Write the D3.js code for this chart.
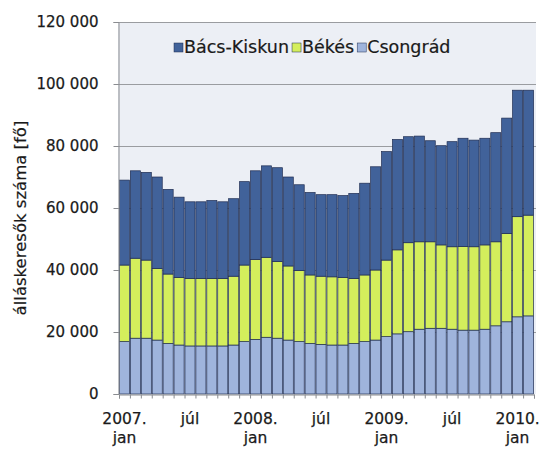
<!DOCTYPE html>
<html><head><meta charset="utf-8">
<script src="https://cdn.jsdelivr.net/npm/d3@7"></script>
<style>
html,body{margin:0;padding:0;background:#fff;}
svg{display:block;}
text{font-family:"DejaVu Sans",Verdana,sans-serif;fill:#1a1a1a;}
</style></head>
<body>
<svg id="chart" width="541" height="462"></svg>
<script>
// ---- data (values in persons) ----
const months = ["2007-01","2007-02","2007-03","2007-04","2007-05","2007-06","2007-07","2007-08","2007-09","2007-10","2007-11","2007-12",
"2008-01","2008-02","2008-03","2008-04","2008-05","2008-06","2008-07","2008-08","2008-09","2008-10","2008-11","2008-12",
"2009-01","2009-02","2009-03","2009-04","2009-05","2009-06","2009-07","2009-08","2009-09","2009-10","2009-11","2009-12",
"2010-01","2010-02"];
const csongrad = [16900,18000,18000,17400,16300,15800,15500,15500,15500,15500,15800,16900,
17600,18300,18000,17400,16900,16300,16000,15800,15800,16300,16900,17400,
18500,19400,20100,20900,21200,21200,20900,20600,20600,20900,22000,23300,
24900,25200];
const bekes = [24700,25800,25200,23100,22400,21800,21800,21800,21800,21800,22200,24700,
25800,25800,24700,23900,22900,22100,22000,22000,21800,21000,21500,22600,
24700,27100,28700,28200,27900,26900,26600,27000,26900,27200,27100,28500,
32300,32500];
const bacs = [27400,28200,28300,29500,27300,25900,24700,24700,25100,24700,25000,26900,
28600,29500,30300,28700,27700,26600,26300,26500,26400,27400,29600,33300,
35000,35600,34200,34100,32600,32000,33900,34900,34400,34400,35200,37200,
40800,40300];
const seriesNames = ["Bács-Kiskun","Békés","Csongrád"];
const seriesColors = ["#41629a","#d4ee5c","#9fb4dc"];
const yTicks = [0,20000,40000,60000,80000,100000,120000];
const xLabels = [{i:0,l1:"2007.",l2:"jan"},{i:6,l1:"júl",l2:""},{i:12,l1:"2008.",l2:"jan"},{i:18,l1:"júl",l2:""},
{i:24,l1:"2009.",l2:"jan"},{i:30,l1:"júl",l2:""},{i:36,l1:"2010.",l2:"jan"}];
const yTitle = "álláskeresők száma [fő]";

// ---- layout ----
const svg = d3.select("#chart");
const L = 118, R = 534, T = 22, B = 394;

const rows = months.map((m,i)=>({m, "Csongrád":csongrad[i], "Békés":bekes[i], "Bács-Kiskun":bacs[i]}));
const stack = d3.stack().keys(["Csongrád","Békés","Bács-Kiskun"]);
const stacked = stack(rows);

const x = d3.scaleBand().domain(months).range([L+1, R]).paddingInner(0.08).paddingOuter(0.04);
const y = d3.scaleLinear().domain([0,120000]).range([B, T]);
const color = d3.scaleOrdinal().domain(seriesNames).range(seriesColors);
const fmt = d3.formatLocale({decimal:",",thousands:"\u00a0",grouping:[3],currency:["","Ft"]}).format(",d");

// plot background
svg.append("rect").attr("x",L).attr("y",T).attr("width",R-L+2).attr("height",B-T).attr("fill","#eceff5");

// gridlines
svg.append("g").selectAll("line").data(yTicks.filter(d=>d>0)).join("line")
  .attr("x1",L).attr("x2",R+2).attr("y1",d=>y(d)+0.5).attr("y2",d=>y(d)+0.5)
  .attr("stroke","#9a9ca0").attr("stroke-width",1);

// bars
svg.append("g").selectAll("g").data(stacked).join("g")
  .attr("fill",d=>color(d.key))
  .selectAll("rect").data(d=>d).join("rect")
  .attr("x",d=>x(d.data.m))
  .attr("width",x.bandwidth())
  .attr("y",d=>y(d[1]))
  .attr("height",d=>y(d[0])-y(d[1]))
  .attr("stroke","#1f2d52").attr("stroke-width",0.7);

// y axis
const yAxis = d3.axisLeft(y).tickValues(yTicks).tickFormat(d=>fmt(d)).tickSize(5).tickPadding(15);
const gy = svg.append("g").attr("transform",`translate(${L+0.5},0)`).call(yAxis);
gy.select(".domain").attr("stroke","#8a8c90");
gy.selectAll(".tick line").attr("stroke","#8a8c90");
gy.selectAll(".tick text").attr("font-size",15).attr("font-family","DejaVu Sans")
  .attr("fill","#1a1a1a").attr("stroke","#1a1a1a").attr("stroke-width",0.25);

// x axis (month ticks)
const xTickScale = d3.scaleLinear().domain([0,months.length]).range([L+1,R]);
const xAxis = d3.axisBottom(xTickScale).tickValues(d3.range(0,months.length+1)).tickFormat("").tickSize(4);
const gx = svg.append("g").attr("transform",`translate(0,${B+0.5})`).call(xAxis);
gx.select(".domain").attr("stroke","#8a8c90");
gx.selectAll(".tick line").attr("stroke","#8a8c90");

// x labels
const xl = svg.append("g").selectAll("text").data(xLabels).join("text")
  .attr("x",d=>x(months[d.i])+x.bandwidth()/2)
  .attr("y",424).attr("text-anchor","middle").attr("font-size",15.5)
  .attr("stroke","#1a1a1a").attr("stroke-width",0.25);
xl.append("tspan").attr("x",d=>x(months[d.i])+x.bandwidth()/2).text(d=>d.l1);
xl.append("tspan").attr("x",d=>x(months[d.i])+x.bandwidth()/2).attr("dy",19).text(d=>d.l2);

// y title
svg.append("text").attr("transform","translate(26,218) rotate(-90)")
  .attr("text-anchor","middle").attr("font-size",16.5)
  .attr("stroke","#1a1a1a").attr("stroke-width",0.2).text(yTitle);

// legend
const leg = svg.append("g").attr("transform","translate(174,53)");
let lx = 0;
seriesNames.forEach((n,k)=>{
  const g = leg.append("g").attr("transform",`translate(${lx},0)`);
  g.append("rect").attr("x",0).attr("y",-10).attr("width",9).attr("height",9)
    .attr("fill",seriesColors[k]).attr("stroke","#1f2d52").attr("stroke-width",0.5);
  const t = g.append("text").attr("x",10).attr("y",0).attr("font-size",17.5)
    .attr("stroke","#1a1a1a").attr("stroke-width",0.2).text(n);
  lx += 10 + t.node().getComputedTextLength() + 3;
});
</script>
</body></html>
